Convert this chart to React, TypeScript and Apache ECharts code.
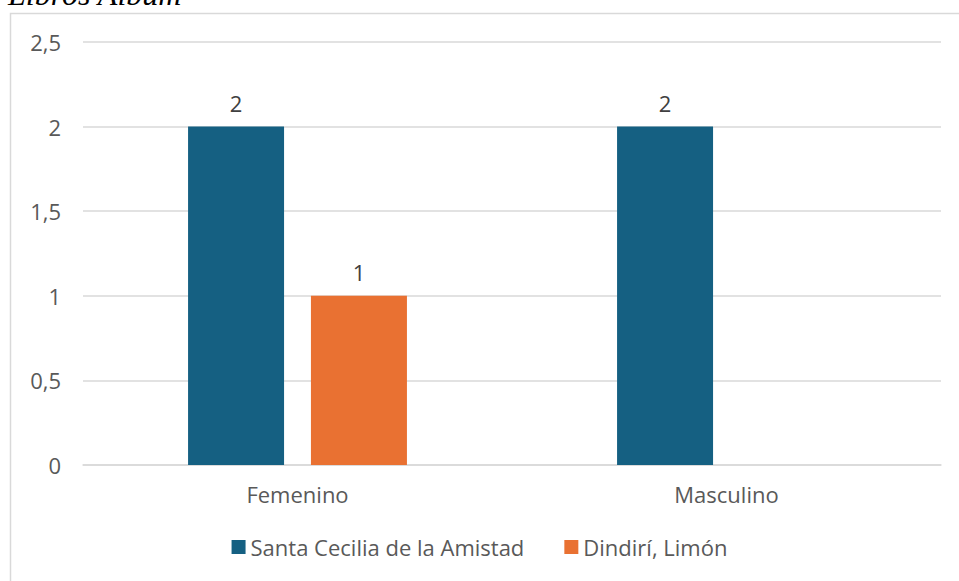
import React, { useEffect, useRef } from "react";
import * as echarts from "echarts";

const categories = ["Femenino", "Masculino"];
const seriesNames = ["Santa Cecilia de la Amistad", "Dindirí, Limón"];
const santaCecilia = [2, 2];
const dindiriLimon = [1, null];
const titleText = "Libros Album";

const FONT = "'Open Sans', 'Noto Sans', sans-serif";

export default function App() {
  const ref = useRef<HTMLDivElement>(null);
  useEffect(() => {
    if (!ref.current) return;
    const chart = echarts.init(ref.current, null, { renderer: "svg" });
    const labelStyle = {
      show: true,
      position: "top" as const,
      distance: 13,
      color: "#404040",
      fontSize: 22,
      fontFamily: FONT,
    };
    chart.setOption({
      animation: false,
      backgroundColor: "#ffffff",
      graphic: [
        {
          type: "rect",
          shape: { x: 10.5, y: 13.5, width: 980, height: 600 },
          style: { fill: "none", stroke: "#d9d9d9", lineWidth: 1.5 },
          silent: true,
        },
        {
          type: "text",
          x: 8,
          y: 10,
          style: {
            text: titleText,
            font: "italic 32px 'Liberation Serif', 'DejaVu Serif', serif",
            fill: "#000000",
            verticalAlign: "bottom",
          },
        },
      ],
      legend: {
        bottom: 18,
        left: "center",
        itemWidth: 14,
        itemHeight: 14,
        itemGap: 40,
        icon: "rect",
        textStyle: { color: "#595959", fontSize: 22, fontFamily: FONT },
        data: seriesNames,
      },
      grid: { left: 83, right: 18, top: 42, bottom: 116 },
      xAxis: {
        type: "category",
        data: categories,
        axisLine: { show: true, lineStyle: { color: "#d9d9d9", width: 1.5 } },
        axisTick: { show: false },
        axisLabel: { color: "#595959", fontSize: 22, fontFamily: FONT, margin: 18 },
      },
      yAxis: {
        type: "value",
        min: 0,
        max: 2.5,
        interval: 0.5,
        axisLine: { show: false },
        axisTick: { show: false },
        splitLine: { lineStyle: { color: "#d9d9d9", width: 1.5 } },
        axisLabel: {
          color: "#595959",
          fontSize: 22,
          fontFamily: FONT,
          margin: 22,
          formatter: (v: number) => String(v).replace(".", ","),
        },
      },
      series: [
        {
          name: seriesNames[0],
          type: "bar",
          data: santaCecilia,
          barWidth: 96,
          barGap: "28%",
          itemStyle: { color: "#156082" },
          label: labelStyle,
        },
        {
          name: seriesNames[1],
          type: "bar",
          data: dindiriLimon,
          barWidth: 96,
          barGap: "28%",
          itemStyle: { color: "#E97132" },
          label: labelStyle,
        },
      ],
    });
    return () => chart.dispose();
  }, []);
  return (
    <div
      ref={ref}
      style={{ position: "fixed", left: 0, top: 0, width: 959, height: 581 }}
    />
  );
}
